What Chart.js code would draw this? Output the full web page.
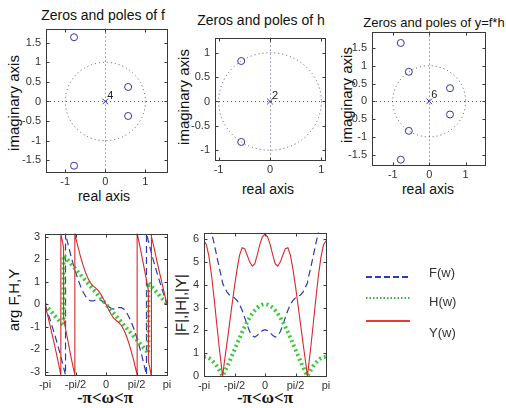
<!DOCTYPE html>
<html>
<head>
<meta charset="utf-8">
<script src="https://cdn.jsdelivr.net/npm/chart.js@4.4.1/dist/chart.umd.min.js"></script>
<style>
  body { margin: 0; width: 506px; height: 408px; background: #fff; position: relative; overflow: hidden;
         font-family: Arial, "Liberation Sans", sans-serif; color: #111; }
  canvas { position: absolute; }
  .c { position: absolute; white-space: nowrap; transform: translate(-50%, -50%); line-height: 1; }
  .r { transform: translate(-50%, -50%) rotate(-90deg); }
  .title { font-size: 14px; }
  .lab { font-size: 15px; }
  .xl { font-size: 14px; }
  .om { font-family: "Liberation Serif", "DejaVu Serif", serif; font-size: 17px; font-weight: bold; }
  .leg { position: absolute; font-size: 13px; color: #333; transform: translateY(-50%); line-height: 1; }
  svg { position: absolute; left: 0; top: 0; }
</style>
</head>
<body>
<div class="c title" style="left:103px;top:15px">Zeros and poles of f</div>
<div class="c title" style="left:261px;top:20px">Zeros and poles of h</div>
<div class="c title" style="left:434px;top:22px;font-size:13px">Zeros and poles of y=f*h</div>
<div class="c lab r" style="left:13px;top:103px">imaginary axis</div>
<div class="c lab r" style="left:183px;top:97px">imaginary axis</div>
<div class="c lab r" style="left:346px;top:95px">imaginary axis</div>
<div class="c xl" style="left:104px;top:196px">real axis</div>
<div class="c xl" style="left:268px;top:189px">real axis</div>
<div class="c xl" style="left:428px;top:189px">real axis</div>
<div class="c lab r" style="left:13px;top:300px">arg F,H,Y</div>
<div class="c lab r" style="left:180px;top:305px">|F|,|H|,|Y|</div>
<div class="c om" style="left:105px;top:397px">-π&lt;ω&lt;π</div>
<div class="c om" style="left:265px;top:397px">-π&lt;ω&lt;π</div>

<canvas id="zf"></canvas>
<canvas id="zh"></canvas>
<canvas id="zy"></canvas>
<canvas id="arg"></canvas>
<canvas id="mag"></canvas>

<svg width="506" height="408">
  <line x1="366" y1="277" x2="410" y2="277" stroke="#2b3bb5" stroke-width="2" stroke-dasharray="6,3"/>
  <line x1="366" y1="298" x2="410" y2="298" stroke="#3cb43c" stroke-width="2" stroke-dasharray="1.5,2"/>
  <line x1="366" y1="321" x2="410" y2="321" stroke="#e43a3a" stroke-width="2"/>
</svg>
<div class="leg" style="left:429px;top:272px">F(w)</div>
<div class="leg" style="left:429px;top:301px">H(w)</div>
<div class="leg" style="left:429px;top:332px">Y(w)</div>

<script>
// zeros
const fZerosRe = [-0.78, -0.78, 0.57, 0.57];
const fZerosIm = [1.64, -1.64, 0.37, -0.37];
const hZerosRe = [-0.56, -0.56];
const hZerosIm = [0.83, -0.83];
const yZerosRe = [-0.78, -0.78, 0.57, 0.57, -0.56, -0.56];
const yZerosIm = [1.64, -1.64, 0.37, -0.37, 0.83, -0.83];
const poleRe = [0];
const poleIm = [0];

const zTicksX = [-1, 0, 1];
const zTicksXLabels = ["-1", "0", "1"];
const zTicksY15 = [-1.5, -1, -0.5, 0, 0.5, 1, 1.5];
const zTicksY15Labels = ["-1.5", "-1", "-0.5", "0", "0.5", "1", "1.5"];
const zTicksY1 = [-1, -0.5, 0, 0.5, 1];
const zTicksY1Labels = ["-1", "-0.5", "0", "0.5", "1"];

const wTicks = [-Math.PI, -Math.PI / 2, 0, Math.PI / 2, Math.PI];
const wTickLabels = ["-pi", "-pi/2", "0", "pi/2", "pi"];
const argTicks = [-3, -2, -1, 0, 1, 2, 3];
const magTicks = [0, 1, 2, 3, 4, 5, 6];

// magnitude responses
const wMag = [-3.1416, -3.0107, -2.8798, -2.7489, -2.618, -2.4871, -2.3562, -2.2253, -2.184, -2.0944,
  -1.9635, -1.8326, -1.7017, -1.5708, -1.4399, -1.309, -1.1781, -1.0472, -0.9163, -0.7854, -0.6545,
  -0.5236, -0.3927, -0.2618, -0.1309, 0, 0.1309, 0.2618, 0.3927, 0.5236, 0.6545, 0.7854, 0.9163,
  1.0472, 1.1781, 1.309, 1.4399, 1.5708, 1.7017, 1.8326, 1.9635, 2.0944, 2.184, 2.2253, 2.3562,
  2.4871, 2.618, 2.7489, 2.8798, 3.0107, 3.1416];
const magF = [6.97, 6.89, 6.65, 6.28, 5.80, 5.27, 4.74, 4.28, 4.07, 3.91, 3.68, 3.55, 3.48, 3.42,
  3.31, 3.13, 2.88, 2.56, 2.24, 1.94, 1.76, 1.71, 1.78, 1.90, 1.99, 2.03, 1.99, 1.90, 1.78, 1.71,
  1.76, 1.94, 2.24, 2.56, 2.88, 3.13, 3.31, 3.42, 3.48, 3.55, 3.68, 3.91, 4.07, 4.28, 4.74, 5.27,
  5.80, 6.28, 6.65, 6.89, 6.97];
const magH = [0.85, 0.83, 0.78, 0.70, 0.58, 0.44, 0.26, 0.07, 0, 0.15, 0.38, 0.63, 0.89, 1.15,
  1.41, 1.67, 1.92, 2.15, 2.37, 2.56, 2.74, 2.88, 3.00, 3.08, 3.13, 3.15, 3.13, 3.08, 3.00, 2.88,
  2.74, 2.56, 2.37, 2.15, 1.92, 1.67, 1.41, 1.15, 0.89, 0.63, 0.38, 0.15, 0, 0.07, 0.26, 0.44,
  0.58, 0.70, 0.78, 0.83, 0.85];
const magY = [5.93, 5.74, 5.20, 4.38, 3.38, 2.30, 1.25, 0.29, 0, 0.59, 1.41, 2.25, 3.10, 3.93,
  4.67, 5.30, 5.62, 5.58, 5.29, 4.99, 4.81, 4.92, 5.33, 5.78, 6.10, 6.22, 6.10, 5.78, 5.33, 4.92,
  4.81, 4.99, 5.29, 5.58, 5.62, 5.30, 4.67, 3.93, 3.10, 2.25, 1.41, 0.59, 0, 0.29, 1.25, 2.30,
  3.38, 4.38, 5.20, 5.74, 5.93];

// phase responses (wrapped, jumps kept as double points)
const wArgF = [-3.1416, -3.0107, -2.8798, -2.7489, -2.618, -2.4871, -2.3562, -2.2253, -2.0944,
  -2.084, -2.084, -1.9635, -1.8326, -1.7017, -1.5708, -1.4399, -1.309, -1.1781, -1.0472, -0.9163,
  -0.7854, -0.6545, -0.5236, -0.3927, -0.2618, -0.1309, 0, 0.1309, 0.2618, 0.3927, 0.5236, 0.6545,
  0.7854, 0.9163, 1.0472, 1.1781, 1.309, 1.4399, 1.5708, 1.7017, 1.8326, 1.9635, 2.084, 2.084,
  2.0944, 2.2253, 2.3562, 2.4871, 2.618, 2.7489, 2.8798, 3.0107, 3.1416];
const argF = [0, -0.34, -0.69, -1.05, -1.42, -1.81, -2.22, -2.66, -3.12, -3.14, 3.14, 2.70, 2.24,
  1.82, 1.44, 1.10, 0.80, 0.55, 0.35, 0.21, 0.15, 0.15, 0.20, 0.21, 0.18, 0.10, 0, -0.10, -0.18,
  -0.21, -0.20, -0.15, -0.15, -0.21, -0.35, -0.55, -0.80, -1.10, -1.44, -1.82, -2.24, -2.70, -3.14,
  3.14, 3.12, 2.66, 2.22, 1.81, 1.42, 1.05, 0.69, 0.34, 0];
const wArgH = [-3.1416, -2.184, -2.184, 2.184, 2.184, 3.1416];
const argH = [0, -0.96, 2.18, -2.18, 0.96, 0];
const wArgY = [-3.1416, -3.0107, -2.8798, -2.7489, -2.618, -2.4871, -2.3562, -2.325, -2.325,
  -2.2253, -2.184, -2.184, -2.0944, -1.9635, -1.8326, -1.7017, -1.604, -1.604, -1.5708, -1.4399,
  -1.309, -1.1781, -1.0472, -0.9163, -0.7854, -0.6545, -0.5236, -0.3927, -0.2618, -0.1309, 0,
  0.1309, 0.2618, 0.3927, 0.5236, 0.6545, 0.7854, 0.9163, 1.0472, 1.1781, 1.309, 1.4399, 1.5708,
  1.604, 1.604, 1.7017, 1.8326, 1.9635, 2.0944, 2.184, 2.184, 2.2253, 2.325, 2.325, 2.3562,
  2.4871, 2.618, 2.7489, 2.8798, 3.0107, 3.1416];
const argY = [0, -0.47, -0.95, -1.44, -1.94, -2.46, -3.01, -3.14, 3.14, 2.71, 2.52, -0.62, -1.03,
  -1.62, -2.21, -2.76, -3.14, 3.14, 3.01, 2.54, 2.11, 1.73, 1.40, 1.13, 0.93, 0.81, 0.72, 0.61,
  0.44, 0.23, 0, -0.23, -0.44, -0.61, -0.72, -0.81, -0.93, -1.13, -1.40, -1.73, -2.11, -2.54, -3.01,
  -3.14, 3.14, 2.76, 2.21, 1.62, 1.03, 0.62, -2.52, -2.71, -3.14, 3.14, 3.01, 2.46, 1.94, 1.44,
  0.95, 0.47, 0];

const PAD_TOP = 8;
const PAD_RIGHT = 12;
const AXIS_W = 34;
const AXIS_H = 20;

const BLUE = "#2b3bb5";
const GREEN = "#3cc83c";
const RED = "#d42a2a";
const MARK = "#3535a8";
const GUIDE = "#4a4a94";

Chart.defaults.font.family = "Arial, 'Liberation Sans', sans-serif";
Chart.defaults.font.size = 11;
Chart.defaults.color = "#333";

function pts(xs, ys) {
  return xs.map((x, i) => ({ x, y: ys[i] }));
}

// box round the plot area with short inward ticks on all four sides
const matlabBox = {
  id: "matlabBox",
  afterDraw(chart) {
    const { ctx, chartArea: a, scales } = chart;
    const L = Math.round(a.left) + 0.5, R = Math.round(a.right) + 0.5;
    const T = Math.round(a.top) + 0.5, B = Math.round(a.bottom) + 0.5;
    ctx.save();
    ctx.strokeStyle = "#3a3a3a";
    ctx.lineWidth = 1;
    ctx.setLineDash([]);
    ctx.strokeRect(L, T, R - L, B - T);
    ctx.beginPath();
    for (const t of scales.x.ticks) {
      const px = Math.round(scales.x.getPixelForValue(t.value)) + 0.5;
      ctx.moveTo(px, B); ctx.lineTo(px, B - 3);
      ctx.moveTo(px, T); ctx.lineTo(px, T + 3);
    }
    for (const t of scales.y.ticks) {
      const py = Math.round(scales.y.getPixelForValue(t.value)) + 0.5;
      ctx.moveTo(L, py); ctx.lineTo(L + 3, py);
      ctx.moveTo(R, py); ctx.lineTo(R - 3, py);
    }
    ctx.stroke();
    ctx.restore();
  },
};

// dotted unit circle and axes, plus the pole multiplicity
const zplaneGuides = {
  id: "zplaneGuides",
  beforeDatasetsDraw(chart) {
    const { ctx, chartArea: a, scales: { x, y } } = chart;
    const cx = x.getPixelForValue(0), cy = y.getPixelForValue(0);
    const rx = x.getPixelForValue(1) - cx, ry = cy - y.getPixelForValue(1);
    ctx.save();
    ctx.strokeStyle = GUIDE;
    ctx.lineWidth = 1;
    ctx.setLineDash([1, 3]);
    ctx.beginPath();
    ctx.ellipse(cx, cy, rx, ry, 0, 0, Math.PI * 2);
    ctx.stroke();
    ctx.beginPath();
    ctx.moveTo(a.left, Math.round(cy) + 0.5); ctx.lineTo(a.right, Math.round(cy) + 0.5);
    ctx.moveTo(Math.round(cx) + 0.5, a.top); ctx.lineTo(Math.round(cx) + 0.5, a.bottom);
    ctx.stroke();
    ctx.restore();
  },
  afterDatasetsDraw(chart, args, opts) {
    const { ctx, scales: { x, y } } = chart;
    ctx.save();
    ctx.fillStyle = "#222";
    ctx.font = "11px Arial, 'Liberation Sans', sans-serif";
    ctx.textAlign = "center";
    ctx.textBaseline = "middle";
    ctx.fillText(opts.label, x.getPixelForValue(poleRe[0]) + 5, y.getPixelForValue(poleIm[0]) - 6);
    ctx.restore();
  },
};

function axis(min, max, ticks, labels, isX) {
  return {
    type: "linear",
    min,
    max,
    grid: { display: false, drawTicks: false },
    border: { display: false },
    afterBuildTicks: (s) => { s.ticks = ticks.map((v) => ({ value: v })); },
    afterFit: (s) => { if (isX) s.height = AXIS_H; else s.width = AXIS_W; },
    ticks: {
      autoSkip: false,
      maxRotation: 0,
      padding: isX ? 3 : 5,
      color: "#333",
      callback: (v, i) => labels[i],
    },
  };
}

function makeChart(id, area, datasets, scales, plugins, pluginOpts) {
  const canvas = document.getElementById(id);
  canvas.width = area.right - area.left + AXIS_W + PAD_RIGHT;
  canvas.height = area.bottom - area.top + PAD_TOP + AXIS_H;
  canvas.style.left = area.left - AXIS_W + "px";
  canvas.style.top = area.top - PAD_TOP + "px";
  return new Chart(canvas, {
    type: "scatter",
    data: { datasets },
    options: {
      responsive: false,
      animation: false,
      events: [],
      layout: { padding: { top: PAD_TOP, right: PAD_RIGHT, left: 0, bottom: 0 } },
      plugins: Object.assign({ legend: { display: false }, tooltip: { enabled: false } }, pluginOpts),
      scales,
    },
    plugins,
  });
}

function zplaneSets(zRe, zIm) {
  return [
    {
      data: pts(zRe, zIm),
      pointStyle: "circle",
      pointRadius: 3.5,
      pointBorderWidth: 1,
      pointBorderColor: MARK,
      pointBackgroundColor: "rgba(0,0,0,0)",
    },
    {
      data: pts(poleRe, poleIm),
      pointStyle: "crossRot",
      pointRadius: 4,
      pointBorderWidth: 1,
      pointBorderColor: MARK,
    },
  ];
}

makeChart("zf", { left: 46, top: 25, right: 167, bottom: 172 }, zplaneSets(fZerosRe, fZerosIm), {
  x: axis(-1.48, 1.54, zTicksX, zTicksXLabels, true),
  y: axis(-1.8, 1.86, zTicksY15, zTicksY15Labels, false),
}, [zplaneGuides, matlabBox], { zplaneGuides: { label: "4" } });

makeChart("zh", { left: 215, top: 34, right: 325, bottom: 160 }, zplaneSets(hZerosRe, hZerosIm), {
  x: axis(-1.07, 1.07, zTicksX, zTicksXLabels, true),
  y: axis(-1.2, 1.31, zTicksY1, zTicksY1Labels, false),
}, [zplaneGuides, matlabBox], { zplaneGuides: { label: "2" } });

makeChart("zy", { left: 372, top: 28, right: 485, bottom: 165 }, zplaneSets(yZerosRe, yZerosIm), {
  x: axis(-1.57, 1.53, zTicksX, zTicksXLabels, true),
  y: axis(-1.79, 1.96, zTicksY15, zTicksY15Labels, false),
}, [zplaneGuides, matlabBox], { zplaneGuides: { label: "6" } });

function curve(data, color, width, dash) {
  return {
    data,
    showLine: true,
    pointRadius: 0,
    borderColor: color,
    borderWidth: width,
    borderDash: dash,
    borderCapStyle: "butt",
    tension: 0,
  };
}

// red drawn last in MATLAB, so it is the first dataset here (drawn on top)
makeChart("arg", { left: 45, top: 230, right: 167, bottom: 375 }, [
  curve(pts(wArgY, argY), RED, 1.1, []),
  curve(pts(wArgH, argH), GREEN, 4, [2, 3]),
  curve(pts(wArgF, argF), BLUE, 1.2, [7, 4]),
], {
  x: axis(-Math.PI, Math.PI, wTicks, wTickLabels, true),
  y: axis(-Math.PI, Math.PI, argTicks, argTicks.map(String), false),
}, [matlabBox], {});

makeChart("mag", { left: 204, top: 229, right: 326, bottom: 376 }, [
  curve(pts(wMag, magY), RED, 1.1, []),
  curve(pts(wMag, magH), GREEN, 4, [2, 3]),
  curve(pts(wMag, magF), BLUE, 1.2, [7, 4]),
], {
  x: axis(-Math.PI, Math.PI, wTicks, wTickLabels, true),
  y: axis(0, 2 * Math.PI, magTicks, magTicks.map(String), false),
}, [matlabBox], {});
</script>
</body>
</html>
